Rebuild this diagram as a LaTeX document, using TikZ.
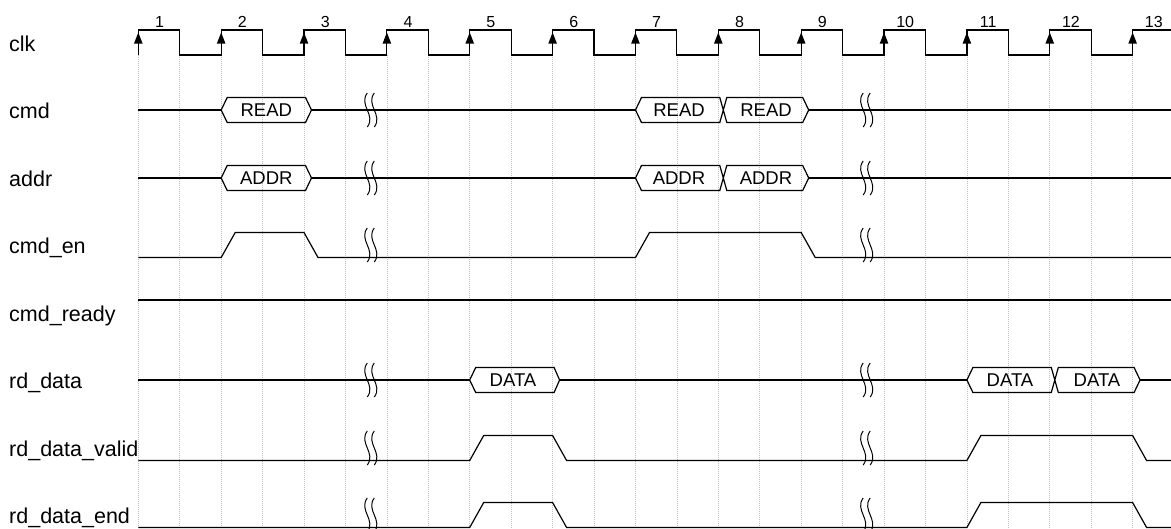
\documentclass[tikz,border=0pt]{standalone}
\usepackage{fontspec}
\setmainfont{Liberation Sans}

\tikzset{
	sig/.style={line width=1.2pt, line join=miter},
	grid/.style={gray!50, line width=0.6pt, dash pattern=on 1pt off 1pt},
	brk/.style={line width=1pt},
	lbl/.style={anchor=base west, inner sep=0pt, font=\fontsize{21.5}{25}\selectfont},
	num/.style={inner sep=0pt, font=\fontsize{16}{19}\selectfont},
	buslbl/.style={inner sep=0pt, font=\fontsize{18.5}{22}\selectfont}
}

\begin{document}
\begin{tikzpicture}[x=1pt, y=-1pt]
\useasboundingbox (0, 0) rectangle (1171, 528);

% grid
\foreach \i in {0, ..., 24}
	\draw[grid] ({138.3+41.43*\i}, 55) -- ({138.3+41.43*\i}, 528);

% clock
\draw[sig] (138.3, 55) \foreach \i in {0, ..., 11} { -- ++(0, -25) -- ++(41.43, 0) -- ++(0, 25) -- ++(41.43, 0) } -- ++(0, -25) -- (1171, 30);
\foreach \i in {0, ..., 12}
	\fill ({138.3+82.86*\i}, 32.5) -- ++(-4.3, 11) -- ++(8.6, 0) -- cycle;
\foreach \i in {1, ..., 13}
	\node[num] (n\i) at ({159.5+82.86*(\i-1)}, 22) {\i};

% signal names
\node[lbl] (lclk) at (9, 51) {clk};
\node[lbl] (lcmd) at (9, 118) {cmd};
\node[lbl] (laddr) at (9, 186) {addr};
\node[lbl] (lcmden) at (9, 253) {cmd\_en};
\node[lbl] (lcmdrdy) at (9, 321) {cmd\_ready};
\node[lbl] (lrd) at (9, 388) {rd\_data};
\node[lbl] (lrdv) at (9, 456) {rd\_data\_valid};
\node[lbl] (lrde) at (9, 523) {rd\_data\_end};

% cmd, addr
\foreach \c/\txt/\nm in {110/READ/cmd, 178/ADDR/addr} {
	\draw[sig] (138.3, \c) -- (221.2, \c) (311.5, \c) -- (635.5, \c) (808.7, \c) -- (1171, \c);
	\draw[sig] (221.2, \c) -- (227.2, \c-12.5) -- (305.5, \c-12.5) -- (311.5, \c) -- (305.5, \c+12.5) -- (227.2, \c+12.5) -- cycle;
	\draw[sig] (635.5, \c) -- (641.5, \c-12.5) -- (719.8, \c-12.5) -- (726.8, \c+12.5) -- (802.7, \c+12.5) -- (808.7, \c)
		-- (802.7, \c-12.5) -- (726.8, \c-12.5) -- (719.8, \c+12.5) -- (641.5, \c+12.5) -- cycle;
	\node[buslbl] (\nm a) at (266.3, \c) {\txt};
	\node[buslbl] (\nm b) at (679, \c) {\txt};
	\node[buslbl] (\nm c) at (766, \c) {\txt};
}

% cmd_en
\draw[sig] (138.3, 257.5) -- (221.2, 257.5) -- (235.2, 232.5) -- (304, 232.5) -- (318, 257.5) -- (635.5, 257.5)
	-- (649.5, 232.5) -- (801.2, 232.5) -- (815.2, 257.5) -- (1171, 257.5);

% cmd_ready
\draw[sig] (138.3, 300) -- (1171, 300);

% rd_data
\draw[sig] (138.3, 380) -- (469.7, 380) (559.6, 380) -- (966.9, 380) (1140.1, 380) -- (1171, 380);
\draw[sig] (469.7, 380) -- (475.7, 367.5) -- (554.1, 367.5) -- (559.6, 380) -- (554.1, 392.5) -- (475.7, 392.5) -- cycle;
\draw[sig] (966.9, 380) -- (972.9, 367.5) -- (1051.3, 367.5) -- (1058.3, 392.5) -- (1134.1, 392.5) -- (1140.1, 380)
	-- (1134.1, 367.5) -- (1058.3, 367.5) -- (1051.3, 392.5) -- (972.9, 392.5) -- cycle;
\node[buslbl] (rda) at (513, 380) {DATA};
\node[buslbl] (rdb) at (1010, 380) {DATA};
\node[buslbl] (rdc) at (1097, 380) {DATA};

% rd_data_valid, rd_data_end
\foreach \c in {448, 515}
	\draw[sig] (138.3, \c+12.5) -- (469.7, \c+12.5) -- (483.7, \c-12.5) -- (552.6, \c-12.5) -- (566.6, \c+12.5) -- (966.9, \c+12.5)
		-- (980.9, \c-12.5) -- (1132.6, \c-12.5) -- (1146.6, \c+12.5) -- (1171, \c+12.5);

% breaks
\foreach \c in {110, 178, 245, 380, 448, 515}
	\foreach \x in {367.3, 863.2} {
		\draw[brk] (\x, \c-17) .. controls (\x-9, \c-5) and (\x+9, \c+5) .. (\x, \c+17);
		\draw[brk] (\x+7, \c-17) .. controls (\x-2, \c-5) and (\x+16, \c+5) .. (\x+7, \c+17);
	}
\end{tikzpicture}
\end{document}
